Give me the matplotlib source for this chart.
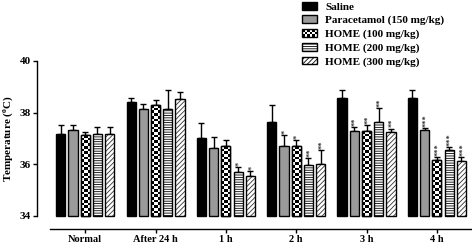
import numpy as np
import matplotlib
matplotlib.use("Agg")
import matplotlib.pyplot as plt
from matplotlib.patches import Rectangle, Patch
from matplotlib.legend_handler import HandlerPatch
from matplotlib.transforms import offset_copy

plt.rcParams['font.family'] = ['Liberation Serif', 'DejaVu Serif']
plt.rcParams['font.weight'] = 'bold'
plt.rcParams['hatch.linewidth'] = 0.6
plt.rcParams['mathtext.fontset'] = 'custom'
plt.rcParams['mathtext.bf'] = 'Liberation Serif:bold'

categories = ["Normal", "After 24 h", "1 h", "2 h", "3 h", "4 h"]
series = ["Saline", "Paracetamol (150 mg/kg)", "HOME (100 mg/kg)",
          "HOME (200 mg/kg)", "HOME (300 mg/kg)"]
saline = [37.18, 38.42, 37.01, 37.65, 38.58, 38.58]
saline_err = [0.32, 0.16, 0.59, 0.65, 0.28, 0.28]
paracetamol = [37.34, 38.14, 36.61, 36.71, 37.30, 37.31]
paracetamol_err = [0.19, 0.21, 0.43, 0.43, 0.12, 0.08]
home100 = [37.12, 38.29, 36.71, 36.70, 37.27, 36.14]
home100_err = [0.14, 0.19, 0.24, 0.25, 0.25, 0.13]
home200 = [37.18, 38.14, 35.70, 35.95, 37.62, 36.56]
home200_err = [0.24, 0.74, 0.20, 0.30, 0.54, 0.09]
home300 = [37.18, 38.52, 35.53, 36.01, 37.26, 36.10]
home300_err = [0.25, 0.29, 0.20, 0.53, 0.12, 0.17]
stars = [
    ["", "", "", "", "", ""],
    ["", "", "", "*", "**", "***"],
    ["", "", "", "*", "**", "***"],
    ["", "", "*", "**", "**", "***"],
    ["", "", "*", "**", "**", "***"],
]
values = [saline, paracetamol, home100, home200, home300]
errors = [saline_err, paracetamol_err, home100_err, home200_err, home300_err]

fig = plt.figure(figsize=(4.72, 2.44), dpi=100)
ax = fig.add_axes([37/472, 1-229/244, 1-37/472, (229-61)/244])

x = np.arange(len(categories))
step, width = 0.174, 0.13
base = 34
styles = [
    dict(facecolor='black', hatch=None),
    dict(facecolor='#9a9a9a', hatch=None),
    dict(facecolor='white', hatch=None),
    dict(facecolor='white', hatch='-------'),
    dict(facecolor='white', hatch='///////'),
]

star_tr = offset_copy(ax.transData, fig=fig, x=1.2, y=0, units='points')
ymin_axis = 33.48
for i, (vals, errs) in enumerate(zip(values, errors)):
    pos = x + (i - 2) * step
    heights = np.array(vals) - base
    bars = ax.bar(pos, heights, width, bottom=base, facecolor=styles[i]['facecolor'],
                  edgecolor='black', linewidth=1.0, hatch=styles[i]['hatch'], zorder=2)
    if i == 4:
        for b in bars:
            b._hatch_color = matplotlib.colors.to_rgba('#333333')
    if i == 2:
        for b in bars:
            bx, by, bw, bh = b.get_x(), b.get_y(), b.get_width(), b.get_height()
            ncol = 3
            nrow = max(1, int(round(bh / 0.105)))
            img = (np.add.outer(np.arange(nrow), np.arange(ncol)) % 2).astype(float)
            im = ax.imshow(img, cmap='gray', extent=(bx, bx + bw, by, by + bh),
                           aspect='auto', interpolation='nearest', zorder=2.5,
                           origin='lower')
            im.set_clip_path(b)
            edge = Rectangle((bx, by), bw, bh, facecolor='none', edgecolor='black',
                             linewidth=1.0, zorder=3)
            ax.add_patch(edge)
    ax.errorbar(pos, vals, yerr=[np.zeros(len(errs)), errs], fmt='none',
                ecolor='black', elinewidth=1.0, capsize=2.5, capthick=1.0, zorder=1.5)
    for j, s in enumerate(stars[i]):
        if s:
            ax.text(pos[j], vals[j] + errs[j] + 0.04, s, rotation=90, ha='center',
                    va='bottom', fontsize=6, fontweight='bold', color='#333333',
                    transform=star_tr)

ax.set_xlim(-0.686, 5.5)
ax.set_ylim(ymin_axis, 40)
ax.spines['top'].set_visible(False)
ax.spines['right'].set_visible(False)
ax.spines['left'].set_bounds(34, 40)
ax.spines['bottom'].set_bounds(-0.5, 5.5)
for sp in ['left', 'bottom']:
    ax.spines[sp].set_linewidth(1.0)
ax.set_yticks([34, 36, 38, 40])
ax.set_yticklabels(['34', '36', '38', '40'], fontsize=8, fontweight='bold')
ax.set_xticks(x)
ax.set_xticklabels(categories, fontsize=7.5, fontweight='bold')
ax.tick_params(axis='both', direction='out', length=3, width=1.0, pad=1.5)
ax.set_ylabel(r'Temperature ($\mathbf{^{o}}$C)', fontsize=8, fontweight='bold')
ax.yaxis.set_label_coords(-0.05, 0.54)


class CheckerHandler(HandlerPatch):
    def create_artists(self, legend, orig_handle, xdescent, ydescent, width, height,
                       fontsize, trans):
        arts = [Rectangle((-xdescent, -ydescent), width, height, facecolor='white',
                          edgecolor='none', transform=trans)]
        nc, nr = 6, 3
        cw, ch = width / nc, height / nr
        for r in range(nr):
            for c in range(nc):
                if (r + c) % 2 == 0:
                    arts.append(Rectangle((-xdescent + c * cw, -ydescent + r * ch), cw, ch,
                                          facecolor='black', edgecolor='none',
                                          transform=trans))
        arts.append(Rectangle((-xdescent, -ydescent), width, height, facecolor='none',
                              edgecolor='black', linewidth=1.0, transform=trans))
        return arts


handles = []
for i, name in enumerate(series):
    h = Patch(facecolor=styles[i]['facecolor'], edgecolor='black', linewidth=1.0,
              hatch=styles[i]['hatch'], label=name)
    handles.append(h)
handler_map = {handles[2]: CheckerHandler()}
leg = fig.legend(handles=handles, labels=series, loc='upper left',
                 bbox_to_anchor=(298/472, 1.01), frameon=False, fontsize=8,
                 handlelength=1.35, handleheight=0.7, labelspacing=0.33,
                 handletextpad=0.7, borderaxespad=0, handler_map=handler_map)
for t in leg.get_texts():
    t.set_fontweight('bold')

fig.savefig('out.png', dpi=100)
